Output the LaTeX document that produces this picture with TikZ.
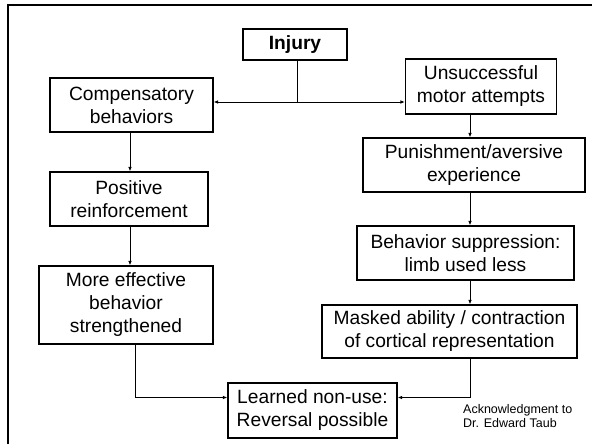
\documentclass[tikz,border=0pt]{standalone}
\usepackage{fontspec}
\setmainfont{Liberation Sans}
\usetikzlibrary{arrows.meta}

\newcommand\boxfont{\fontsize{19.2}{23}\selectfont}
\newcommand\notefont{\fontsize{12.5}{14.3}\selectfont}

\begin{document}
\begin{tikzpicture}[x=1pt, y=-1pt,
  box/.style={draw, line width=1.1pt, align=center, inner sep=0pt, font=\boxfont},
  link/.style={line width=0.9pt, -{Latex[length=4.5pt, width=3.5pt]}},
  twolink/.style={line width=0.9pt, {Latex[length=4.5pt, width=3.5pt]}-{Latex[length=4.5pt, width=3.5pt]}}]

  \useasboundingbox (0,0) rectangle (592,444);

  % -- Slide frame --
  \draw[line width=2.6pt] (8,448) -- (8,5) -- (596,5);

  % -- Top --
  \node[box, minimum width=104pt, minimum height=31pt, font=\boxfont\bfseries] (inj) at (295,44.5) {Injury};

  % -- Left column --
  \node[box, minimum width=163pt, minimum height=54pt] (comp) at (131.5,105) {Compensatory\\behaviors};
  \node[box, minimum width=158pt, minimum height=54pt] (pos) at (129,199) {Positive\\reinforcement};
  \node[box, minimum width=174pt, minimum height=78pt] (more) at (126,305) {More effective\\behavior\\strengthened};

  % -- Right column --
  \node[box, minimum width=151pt, minimum height=55pt] (unsucc) at (481,86.5) {Unsuccessful\\motor attempts};
  \node[box, minimum width=222pt, minimum height=54pt] (pun) at (474,165) {Punishment/aversive\\experience};
  \node[box, minimum width=217pt, minimum height=54pt] (supp) at (465.5,253) {Behavior suppression:\\limb used less};
  \node[box, minimum width=255pt, minimum height=53pt] (mask) at (449.5,331.5) {Masked ability / contraction\\of cortical representation};

  % -- Bottom --
  \node[box, minimum width=169pt, minimum height=55pt] (learn) at (312.5,410.5) {Learned non-use:\\Reversal possible};
  \node[anchor=north west, align=left, inner sep=0pt, font=\notefont] (ack) at (463,404) {Acknowledgment to\\Dr. Edward Taub};

  % -- Helper coordinates --
  \coordinate (split) at (297,102);
  \coordinate (lcol) at (130,0);
  \coordinate (rcol) at (470,0);
  \coordinate (moreout) at (135,0);
  \coordinate (low) at (0,397.5);

  % -- Connectors --
  \draw[line width=0.9pt] (inj.south -| split) -- (split);
  \draw[twolink] (split -| comp.east) -- (split -| unsucc.west);
  \draw[link] (comp.south -| lcol) -- (pos.north -| lcol);
  \draw[link] (pos.south -| lcol) -- (more.north -| lcol);
  \draw[link] (unsucc.south -| rcol) -- (pun.north -| rcol);
  \draw[link] (pun.south -| rcol) -- (supp.north -| rcol);
  \draw[link] (supp.south -| rcol) -- (mask.north -| rcol);
  \draw[link] (more.south -| moreout) |- (low -| learn.west);
  \draw[link] (mask.south -| rcol) |- (low -| learn.east);

\end{tikzpicture}
\end{document}
